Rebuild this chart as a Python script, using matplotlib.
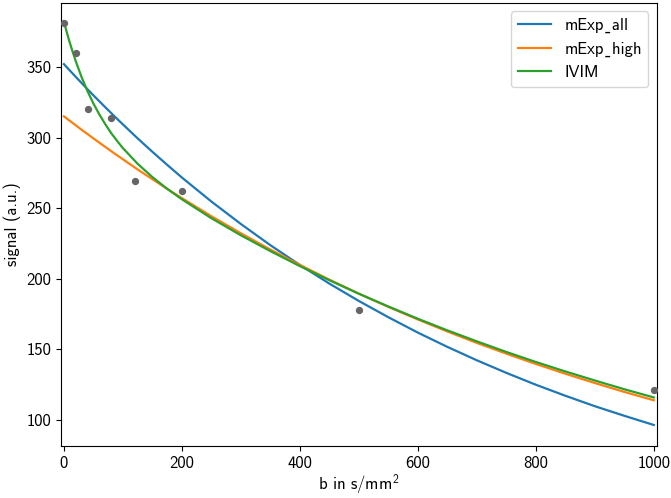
import matplotlib
matplotlib.use("Agg")
import matplotlib.pyplot as plt

plt.rcParams['font.family'] = ['cmss10', 'DejaVu Sans']
plt.rcParams['mathtext.fontset'] = 'custom'
plt.rcParams['mathtext.rm'] = 'cmss10'
plt.rcParams['mathtext.it'] = 'cmss10'
plt.rcParams['mathtext.bf'] = 'cmss10'
plt.rcParams['font.size'] = 12
plt.rcParams['axes.unicode_minus'] = False

# measured signal
b_meas = [0, 20, 40, 80, 120, 200, 500, 1000]
s_meas = [381, 360, 320, 314, 269, 262, 178, 121]

# fitted curves
b_fit = [0, 5, 10, 20, 30, 40, 50, 60, 70, 80, 90, 100, 125, 150, 175, 200,
         250, 300, 350, 400, 450, 500, 550, 600, 650, 700, 750, 800, 850,
         900, 950, 1000]
mexp_all = [352.0, 349.7, 347.5, 343.0, 338.6, 334.2, 329.9, 325.7, 321.5,
            317.4, 313.3, 309.3, 299.4, 289.9, 280.7, 271.7, 254.7, 238.8,
            223.8, 209.8, 196.6, 184.3, 172.8, 161.9, 151.8, 142.3, 133.4,
            125.0, 117.2, 109.8, 103.0, 96.5]
mexp_high = [315.0, 313.4, 311.8, 308.7, 305.5, 302.5, 299.4, 296.4, 293.4,
             290.4, 287.5, 284.6, 277.4, 270.5, 263.7, 257.1, 244.3, 232.2,
             220.7, 209.8, 199.4, 189.5, 180.1, 171.2, 162.7, 154.6, 147.0,
             139.7, 132.8, 126.2, 119.9, 114.0]
ivim = [382.0, 374.3, 367.0, 354.1, 342.7, 332.8, 324.1, 316.4, 309.5,
        303.2, 297.7, 292.5, 281.4, 272.0, 263.7, 256.3, 242.9, 230.8,
        219.6, 209.0, 199.0, 189.4, 180.4, 171.7, 163.5, 155.7, 148.2,
        141.1, 134.4, 128.0, 121.8, 116.0]

labels = ['mExp\u02cdall', 'mExp\u02cdhigh', 'IVIM']

fig = plt.figure(figsize=(6.71, 4.98), dpi=100)
ax = fig.add_axes([0.0909, 0.1044, 0.8878, 0.8896])

ax.scatter(b_meas, s_meas, color='#666666', s=18, zorder=3)
ax.plot(b_fit, mexp_all, color='#1f77b4', lw=1.6, label=labels[0])
ax.plot(b_fit, mexp_high, color='#ff7f0e', lw=1.6, label=labels[1])
ax.plot(b_fit, ivim, color='#2ca02c', lw=1.6, label=labels[2])

ax.set_xlim(-5, 1005)
ax.set_ylim(81.6, 395.3)
ax.set_xticks([0, 200, 400, 600, 800, 1000])
ax.set_yticks([100, 150, 200, 250, 300, 350])
ax.set_xlabel('b in s/mm$^2$', labelpad=1.5)
ax.set_ylabel('signal (a.u.)')
ax.legend(loc='upper right')

fig.savefig('out.png', dpi=100)
